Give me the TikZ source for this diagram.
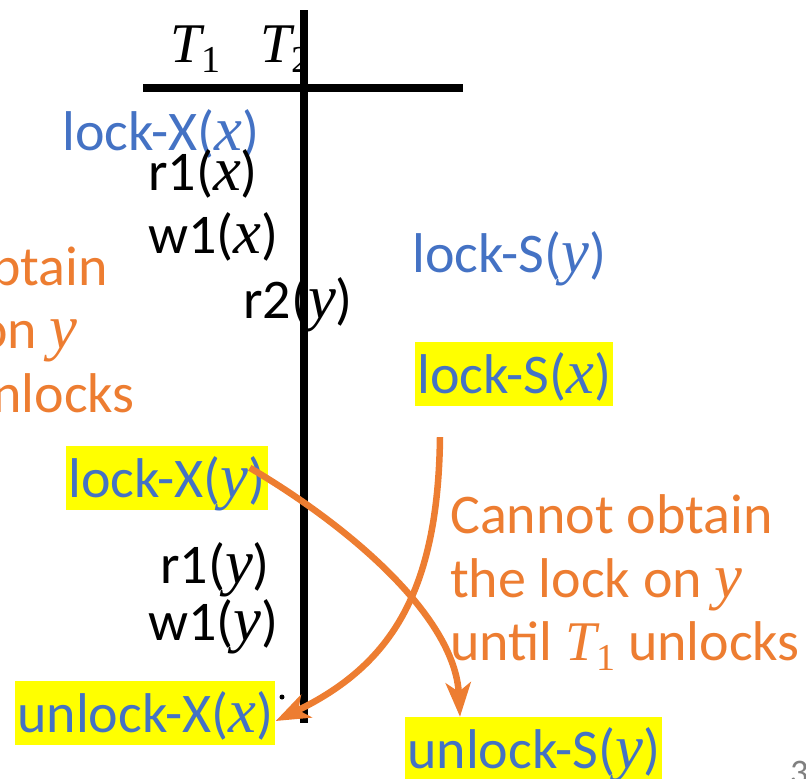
\documentclass[tikz,border=0pt]{standalone}
\usepackage{fontspec}
\setmainfont{Carlito}
\newfontfamily\mathserif{Liberation Serif}[Scale=1.12]
\newfontfamily\mathserifT{Liberation Serif}
\usetikzlibrary{arrows.meta}
\definecolor{pblue}{HTML}{4472C4}
\definecolor{porange}{HTML}{ED7D31}
\definecolor{pyellow}{HTML}{FFFF00}
\newcommand\mv[1]{{\mathserif\itshape #1}}
\newcommand\Tsub[1]{{\mathserifT\itshape T}\raisebox{-0.19em}{\fontsize{38}{38}\selectfont\mathserifT #1}}
\tikzset{
  txt/.style={anchor=base west, inner sep=0pt, font=\fontsize{56}{63}\selectfont},
  bluetxt/.style={txt, text=pblue},
  hl/.style={bluetxt, fill=pyellow, inner xsep=2pt, text height=51pt, text depth=13pt},
  note/.style={txt, text=porange},
  rulebar/.style={line width=7.5pt},
  flow/.style={draw=porange, line width=6.5pt, -{Stealth[length=34pt,width=25pt,inset=9pt]}}
}
\begin{document}
\begin{tikzpicture}[x=1pt,y=-1pt]
\useasboundingbox (0,0) rectangle (806,779);
\clip (0,0) rectangle (806,779);
% header
\node[txt] (t1) at (170,62) {\Tsub{1}};
\node[txt] (t2) at (260,62) {\Tsub{2}};
\draw[rulebar] (143,88) -- (463,88);
\draw[rulebar] (304,10) -- (304,723);
% T1 column
\node[bluetxt] (lockXx) at (62,150) {lock-X(\mv{x})};
\node[txt] (r1x) at (148,190) {r1(\mv{x})};
\node[txt] (w1x) at (148,253) {w1(\mv{x})};
\node[txt] (r2y) at (243,318) {r2(\mv{y})};
\node[bluetxt] (lockSy) at (412,272) {lock-S(\mv{y})};
\node[hl] (lockSx) at (415,393) {lock-S(\mv{x})};
\node[hl] (lockXy) at (66,497) {lock-X(\mv{y})};
\node[txt] (r1y) at (160,583) {r1(\mv{y})};
\node[txt] (w1y) at (148,640) {w1(\mv{y})};
\node[hl] (unlockXx) at (15,732) {unlock-X(\mv{x})};
\node[hl] (unlockSy) at (405,768) {unlock-S(\mv{y})};
\fill (282,697) circle (2.5);
% notes
\node[note] (na1) at (450,533) {Cannot obtain};
\node[note] (na2) at (450,597) {the lock on \mv{y}};
\node[note] (na3) at (450,660) {until \Tsub{1} unlocks};
\node[note] (nb1) at (-215,285) {Cannot obtain};
\node[note] (nb2) at (-215,348) {the lock on \mv{y}};
\node[note] (nb3) at (-215,412) {until \Tsub{2} unlocks};
\node[txt, text=gray, font=\fontsize{36}{36}\selectfont] (pg) at (790,784) {3};
% arrows
\draw[flow] ([shift={(25,31)}]lockSx.south west) .. controls +(-2,154) and +(116,-56) .. ([shift={(0,8)}]unlockXx.east);
\draw[flow] ([shift={(-18,22)}]lockXy.north east) .. controls +(105,62) and +(-5,-98) .. ([shift={(55,0)}]unlockSy.north west);
\end{tikzpicture}
\end{document}
